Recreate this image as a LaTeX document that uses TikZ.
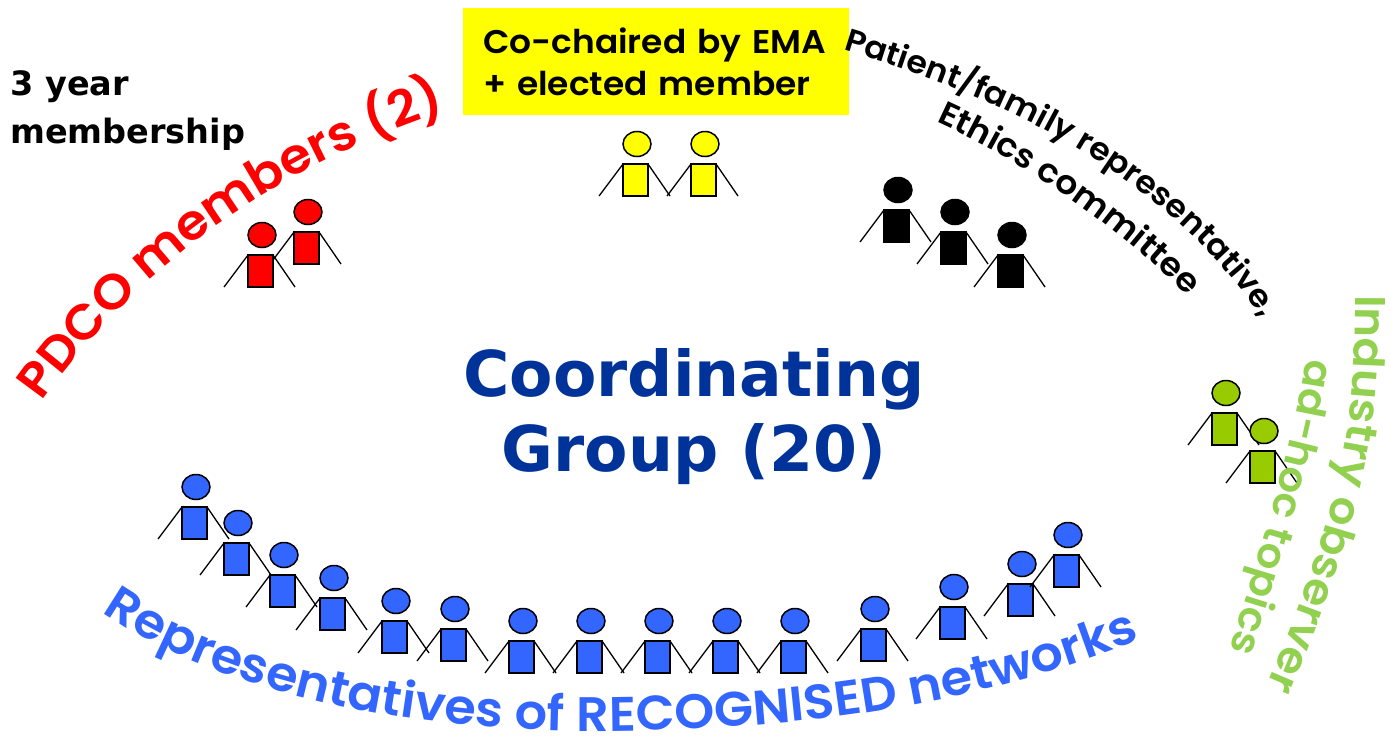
\documentclass[tikz,border=0pt]{standalone}
\usepackage{fontspec}
\usepackage{xcolor}
\usetikzlibrary{decorations.text}
\setmainfont{DejaVu Sans}
\newfontfamily\handfont{Poppins}[BoldFont=* SemiBold, FakeStretch=1.05]
\definecolor{boxyellow}{RGB}{255,255,0}
\definecolor{netblue}{HTML}{3366FF}
\definecolor{titleblue}{HTML}{003399}
\definecolor{obsgreen}{HTML}{92D050}
\definecolor{figgreen}{HTML}{99CC00}
\begin{document}
\begin{tikzpicture}[x=1pt, y=-1pt,
  person/.pic={
    \path[draw, fill, line width=1.5pt] (0,0) ellipse [x radius=14, y radius=12.5];
    \path[draw, fill, line width=1.5pt] (-14,20) rectangle (11,52);
    \draw[line width=1.3pt] (-14,20) -- (-38,52);
    \draw[line width=1.3pt] (11,20) -- (33,52);
  },
  curved/.style={decorate, decoration={text along path, text={#1}}}]
\useasboundingbox (0,0) rectangle (1391,747);

\node[fill=boxyellow, inner xsep=20pt, inner ysep=0pt, text width=346pt, minimum height=107pt, align=left, font=\handfont\bfseries\fontsize{32.8}{42}\selectfont] (cochair) at (656,61.5) {Co-chaired by EMA\\+ elected member};
\node[text=titleblue, align=center, font=\bfseries\fontsize{63.2}{75}\selectfont] (title) at (694,417) {Coordinating\\Group (20)};
\node[anchor=north west, inner sep=0pt, align=left, font=\bfseries\fontsize{33.5}{48}\selectfont] (term) at (10,70) {3 year\\membership};

\pic[fill=boxyellow] at (637,144) {person};
\pic[fill=boxyellow] at (705,144) {person};

\pic[fill=red] at (308,212) {person};
\pic[fill=red] at (262,235) {person};

\pic[fill=black] at (898,190) {person};
\pic[fill=black] at (955,212) {person};
\pic[fill=black] at (1012,235) {person};

\pic[fill=figgreen] at (1226,393) {person};
\pic[fill=figgreen] at (1264,431) {person};

\pic[fill=netblue] at (196,487) {person};
\pic[fill=netblue] at (238,523) {person};
\pic[fill=netblue] at (284,555) {person};
\pic[fill=netblue] at (334,578) {person};
\pic[fill=netblue] at (396,601) {person};
\pic[fill=netblue] at (455,609) {person};
\pic[fill=netblue] at (523,621) {person};
\pic[fill=netblue] at (591,621) {person};
\pic[fill=netblue] at (659,621) {person};
\pic[fill=netblue] at (727,621) {person};
\pic[fill=netblue] at (795,621) {person};
\pic[fill=netblue] at (875,609) {person};
\pic[fill=netblue] at (954,587) {person};
\pic[fill=netblue] at (1022,564) {person};
\pic[fill=netblue] at (1068,535) {person};

\path[curved={|\handfont\bfseries\fontsize{49}{49}\selectfont\color{red}|PDCO members (2)}] (42,402) .. controls (150,250) and (300,150) .. (500,95);
\path[curved={|\handfont\bfseries\fontsize{31.6}{32}\selectfont\color{black}|Patient/family representative,}] (843,50) .. controls (990,95) and (1190,170) .. (1300,380);
\path[curved={|\handfont\bfseries\fontsize{33}{33}\selectfont\color{black}|Ethics committee}] (936,122) .. controls (1020,160) and (1130,230) .. (1220,330);
\path[curved={|\handfont\bfseries\fontsize{43}{43}\selectfont\color{obsgreen}|Industry observer}] (1355,295) .. controls (1355,380) and (1350,440) .. (1327,520) .. controls (1310,580) and (1285,650) .. (1240,745);
\path[curved={|\handfont\bfseries\fontsize{40}{40}\selectfont\color{obsgreen}|ad-hoc topics}] (1306,358) .. controls (1295,430) and (1275,510) .. (1210,710);
\path[curved={|\handfont\bfseries\fontsize{48.5}{49}\selectfont\color{netblue}|Representatives of RECOGNISED networks}] (102,612) .. controls (230,700) and (430,733) .. (610,731) .. controls (800,729) and (1050,708) .. (1280,570);

\end{tikzpicture}
\end{document}
